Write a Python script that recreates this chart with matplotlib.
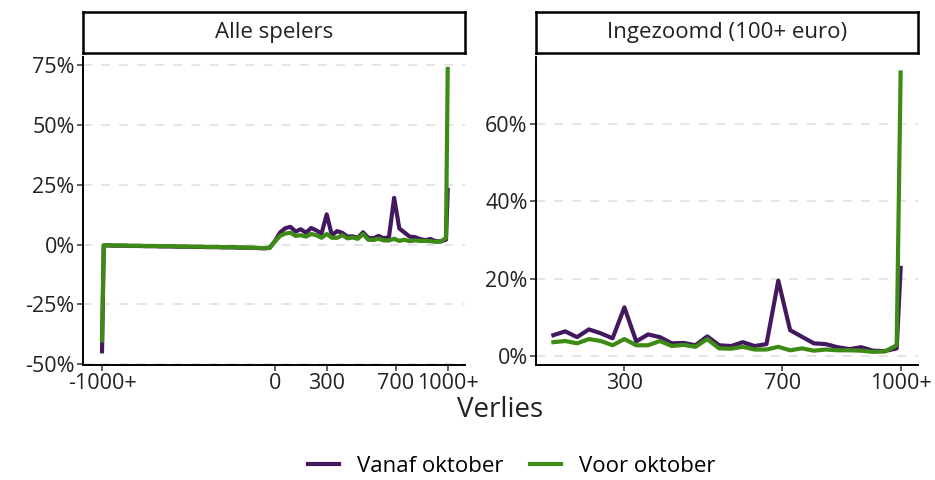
import numpy as np
import matplotlib
matplotlib.use("Agg")
import matplotlib.pyplot as plt

plt.rcParams["font.family"] = ["Open Sans", "DejaVu Sans"]

# Verlies (euro), -1000+ and 1000+ are the open end bins
verlies = [-1000] + list(range(-990, 1, 30)) + list(range(30, 991, 30)) + [1000]

# share (%) per bin
vanaf_neg = [-44.6,
             -0.4, -0.4, -0.5, -0.5, -0.5, -0.6, -0.6, -0.6, -0.7, -0.7, -0.7, -0.8,
             -0.8, -0.8, -0.9, -0.9, -0.9, -1.0, -1.0, -1.0, -1.1, -1.1, -1.1, -1.2,
             -1.2, -1.2, -1.3, -1.3, -1.4, -1.4, -1.5, -1.6, -1.4, 1.4]
voor_neg = [-40.0,
            -0.3, -0.3, -0.4, -0.4, -0.4, -0.5, -0.5, -0.5, -0.6, -0.6, -0.6, -0.7,
            -0.7, -0.7, -0.8, -0.8, -0.8, -0.9, -0.9, -0.9, -1.0, -1.0, -1.0, -1.1,
            -1.1, -1.1, -1.2, -1.2, -1.3, -1.3, -1.4, -1.5, -1.3, 1.2]
vanaf_pos = [5.0, 6.8, 7.4,
             5.4, 6.4, 4.9, 6.9, 5.9, 4.6, 12.6, 3.8, 5.6, 4.9, 3.3, 3.4, 2.8, 5.1,
             2.8, 2.6, 3.6, 2.6, 3.1, 19.5, 6.7, 5.0, 3.3, 3.1, 2.3, 1.8, 2.3, 1.4,
             1.3, 2.0, 22.8]
voor_pos = [3.6, 4.6, 4.9,
            3.6, 3.9, 3.3, 4.4, 3.9, 2.8, 4.4, 2.8, 2.8, 3.9, 2.6, 2.9, 2.4, 4.4,
            2.0, 1.9, 2.4, 1.7, 1.7, 2.4, 1.5, 2.0, 1.4, 1.7, 1.5, 1.5, 1.4, 1.1,
            1.2, 2.8, 73.3]

vanaf = np.array(vanaf_neg + vanaf_pos)
voor = np.array(voor_neg + voor_pos)
x = np.array(verlies)

purple = "#44185f"
green = "#3d8b15"
dark = "#222222"

fig = plt.figure(figsize=(9.35, 4.8), dpi=100)
W, H = 935, 480


def px_axes(x0, y0, x1, y1):
    return fig.add_axes([x0 / W, 1 - y1 / H, (x1 - x0) / W, (y1 - y0) / H])


def style(ax, yticks, ylabels):
    for s in ["top", "right"]:
        ax.spines[s].set_visible(False)
    for s in ["left", "bottom"]:
        ax.spines[s].set_color("black")
        ax.spines[s].set_linewidth(1.4)
    ax.set_yticks(yticks)
    ax.set_yticklabels(ylabels)
    ax.tick_params(length=4, width=1.1, color="#333333", labelsize=15.5,
                   labelcolor=dark, pad=2)
    ax.yaxis.grid(True, color="#e3e3e3", linestyle=(0, (5, 5)), linewidth=1.3)
    ax.set_axisbelow(True)


def strip(x0, x1, label):
    sa = px_axes(x0, 12, x1, 53)
    sa.set_xticks([])
    sa.set_yticks([])
    for s in sa.spines.values():
        s.set_linewidth(1.8)
        s.set_color("black")
    sa.text(0.5, 0.5, label, ha="center", va="center", fontsize=16,
            color=dark, transform=sa.transAxes)


# left panel: all players
ax1 = px_axes(83, 57, 465, 365)
ax1.plot(x, vanaf, color=purple, lw=3, label="Vanaf oktober", solid_joinstyle="round")
ax1.plot(x, voor, color=green, lw=3, label="Voor oktober", solid_joinstyle="round")
ax1.set_xlim(-1110, 1100)
ax1.set_ylim(-50.3, 78.3)
style(ax1, [-50, -25, 0, 25, 50, 75], ["-50%", "-25%", "0%", "25%", "50%", "75%"])
ax1.set_xticks([-1000, 0, 300, 700, 1000])
ax1.set_xticklabels(["-1000+", "0", "300", "700", "1000+"])
strip(83, 465, "Alle spelers")

# right panel: zoomed in on 100+ euro
mask = x >= 100
ax2 = px_axes(536, 57, 918, 365)
ax2.plot(x[mask], vanaf[mask], color=purple, lw=3, solid_joinstyle="round")
ax2.plot(x[mask], voor[mask], color=green, lw=3, solid_joinstyle="round")
ax2.set_xlim(76, 1044)
ax2.set_ylim(-2.3, 77.3)
style(ax2, [0, 20, 40, 60], ["0%", "20%", "40%", "60%"])
ax2.set_xticks([300, 700, 1000])
ax2.set_xticklabels(["300", "700", "1000+"])
strip(536, 918, "Ingezoomd (100+ euro)")

fig.text(500 / W, 1 - 410 / H, "Verlies", ha="center", va="center",
         fontsize=20, color=dark)

handles, labels = ax1.get_legend_handles_labels()
fig.legend(handles, labels, loc="center", bbox_to_anchor=(512 / W, 1 - 466 / H),
           ncol=2, frameon=False, fontsize=16, handlelength=1.4,
           columnspacing=1.2, handletextpad=0.8)

fig.savefig("out.png", dpi=100)
